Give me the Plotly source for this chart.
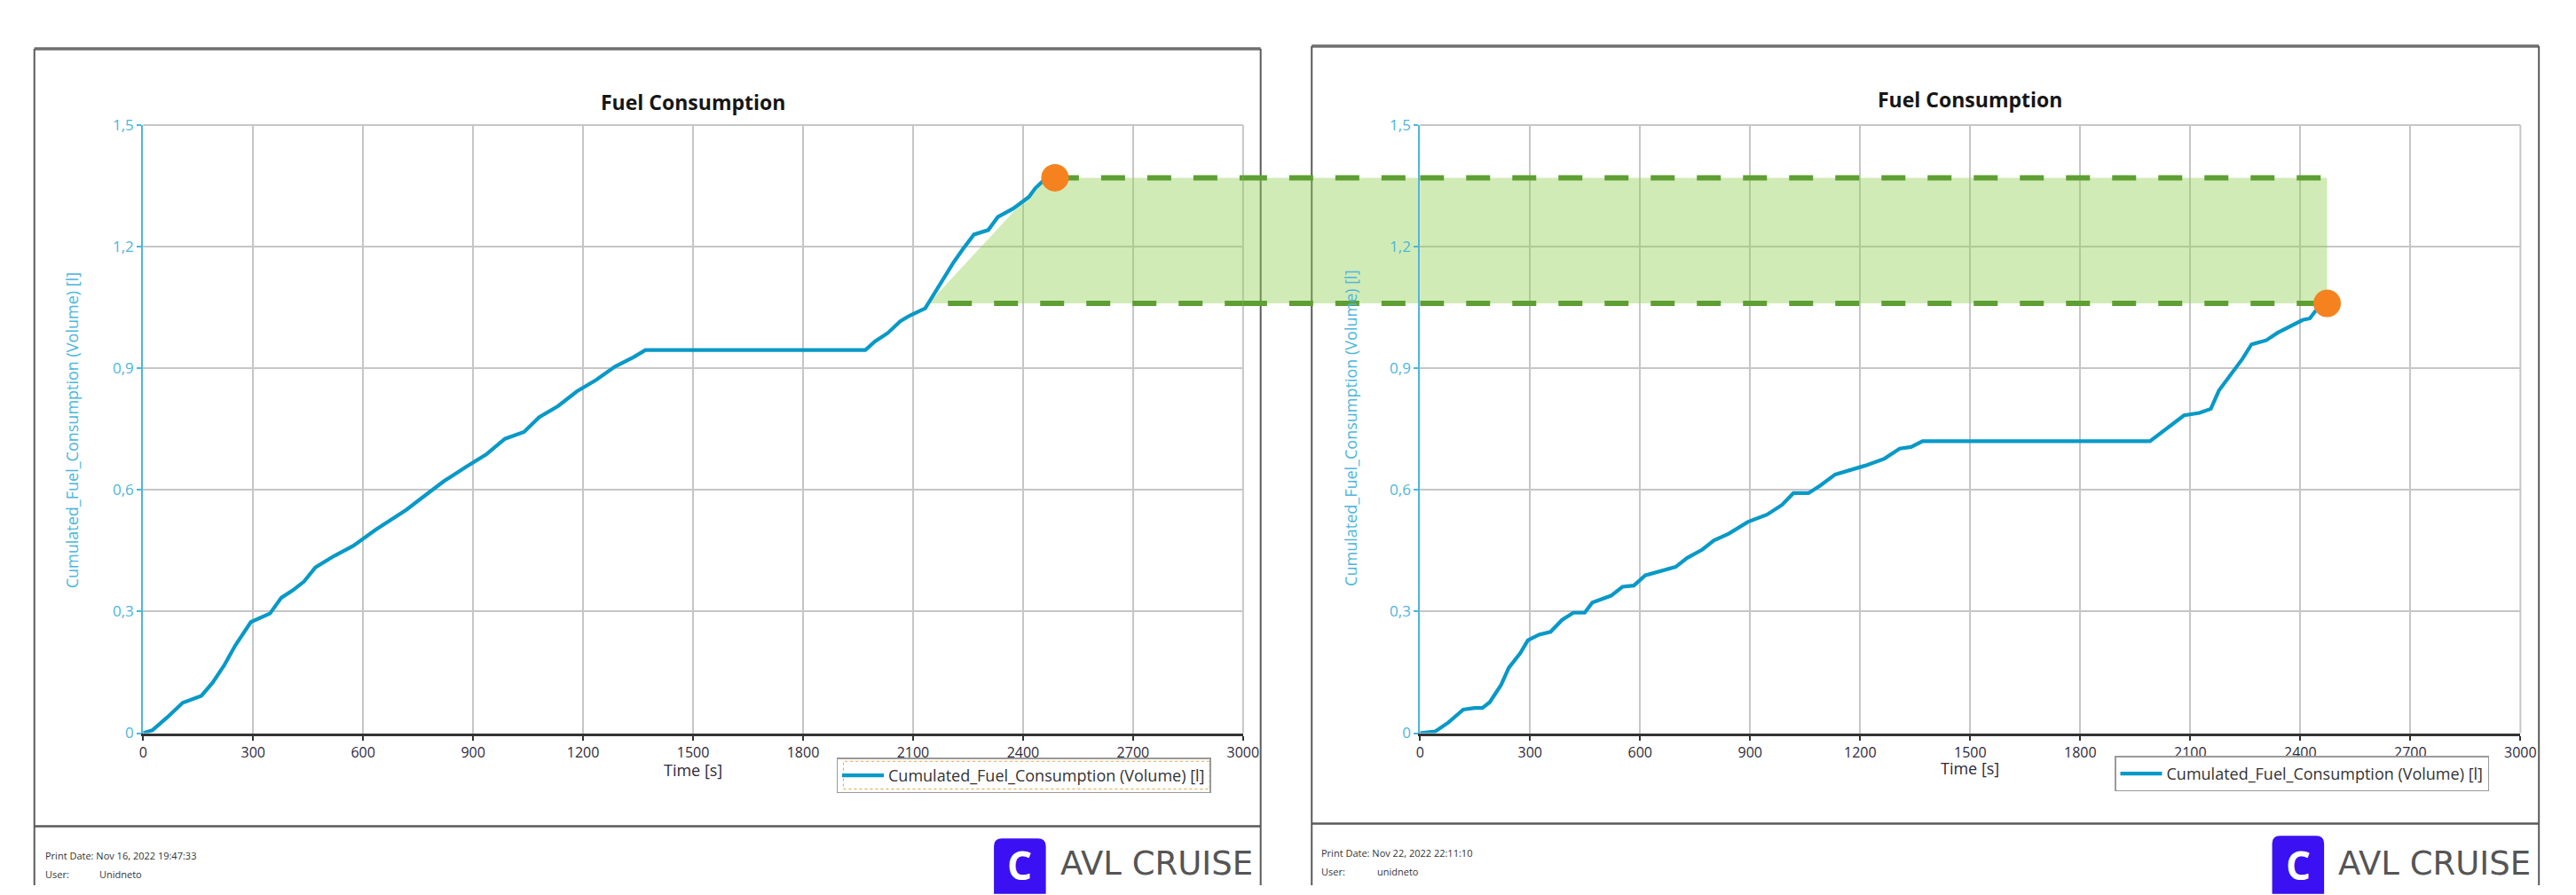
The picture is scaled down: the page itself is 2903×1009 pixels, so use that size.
import plotly.graph_objects as go

FIG_W, FIG_H = 2903, 1009

# ---------------- data ----------------
time_ticks = [0, 300, 600, 900, 1200, 1500, 1800, 2100, 2400, 2700, 3000]
time_tick_labels = ["0", "300", "600", "900", "1200", "1500", "1800", "2100", "2400", "2700", "3000"]
volume_ticks = [0, 0.3, 0.6, 0.9, 1.2, 1.5]
volume_tick_labels = ["0", "0,3", "0,6", "0,9", "1,2", "1,5"]

series_name = "Cumulated_Fuel_Consumption (Volume) [l]"
chart_title = "Fuel Consumption"
x_title = "Time [s]"

# run 1 (left report)
run1_time = [0, 25, 66, 108, 159, 190, 221, 252, 294, 346, 377, 408, 439, 470, 521, 573,
             635, 677, 718, 770, 821, 883, 935, 987, 1039, 1080, 1132, 1183, 1235, 1287,
             1339, 1370, 1970, 1996, 2031, 2065, 2091, 2133, 2159, 2185, 2211, 2236, 2266,
             2305, 2331, 2373, 2416, 2433, 2459, 2480]
run1_fuel = [0, 0.007, 0.039, 0.075, 0.092, 0.125, 0.167, 0.217, 0.274, 0.295, 0.334, 0.352,
             0.374, 0.409, 0.437, 0.462, 0.502, 0.526, 0.551, 0.587, 0.622, 0.658, 0.687,
             0.726, 0.743, 0.779, 0.807, 0.843, 0.871, 0.904, 0.928, 0.945, 0.945, 0.966,
             0.987, 1.016, 1.030, 1.048, 1.087, 1.123, 1.162, 1.194, 1.230, 1.241, 1.273,
             1.294, 1.323, 1.344, 1.366, 1.372]

# run 2 (right report)
run2_time = [0, 41, 77, 118, 149, 170, 190, 221, 242, 273, 294, 325, 356, 387, 418, 449, 470,
             521, 552, 583, 614, 656, 697, 728, 770, 801, 842, 894, 946, 987, 1018, 1059, 1090,
             1132, 1173, 1214, 1266, 1308, 1339, 1370, 1990, 2032, 2083, 2125, 2156, 2178,
             2218, 2242, 2267, 2307, 2337, 2377, 2406, 2426, 2441, 2465]
run2_fuel = [0, 0.004, 0.026, 0.058, 0.062, 0.062, 0.076, 0.119, 0.161, 0.197, 0.229, 0.243,
             0.250, 0.279, 0.297, 0.297, 0.322, 0.339, 0.361, 0.364, 0.389, 0.400, 0.410,
             0.432, 0.453, 0.475, 0.492, 0.521, 0.539, 0.563, 0.592, 0.592, 0.610, 0.638,
             0.649, 0.660, 0.677, 0.702, 0.706, 0.720, 0.720, 0.748, 0.784, 0.790, 0.800,
             0.845, 0.895, 0.923, 0.959, 0.969, 0.987, 1.005, 1.019, 1.023, 1.041, 1.058]

run1_end_time, run1_end_fuel = 2487, 1.37
run2_end_time, run2_end_fuel = 2473, 1.06
band_top = run1_end_fuel
band_bottom = run2_end_fuel
band_start_time_run1 = 2142     # where run 1 reaches the run-2 total
band_corner_time_run1 = 2460
dash_start_time_run1 = 2195

print_dates = ["Print Date: Nov 16, 2022 19:47:33", "Print Date: Nov 22, 2022 22:11:10"]
user_names = ["Unidneto", "unidneto"]

# ---------------- layout helpers ----------------
def fx(x):
    return x / FIG_W


def fy(y):
    return 1 - y / FIG_H


PLOT_Y0, PLOT_Y1 = 833.5, 132          # pixel rows of 0 and 1.5
PANELS = [
    dict(frame=(34, 1427, 44, 941), plot=(157.5, 1407), title=(782, 105), ytitle=(77, 484),
         xtitle=(782, 876), legend=(945, 862), footer_x=44, user_x=106, foot_y=(975, 996),
         icon=(1124, 1183, 955), logo_x=1197, focus=(953, 1369, 866, 898)),
    dict(frame=(1485, 2879, 41, 938), plot=(1608, 2858), title=(2233, 102), ytitle=(1529, 482),
         xtitle=(2233, 874), legend=(2397, 860), footer_x=1494, user_x=1557, foot_y=(972, 993),
         icon=(2576, 2635, 952), logo_x=2649, focus=None),
]

FONT = "Open Sans"
CURVE = "#0899C7"
AXIS_BLUE = "#4DB6DC"
GRID = "#C6C6C6"
ORANGE = "#F5821F"
BAND_FILL = "rgba(146,208,80,0.42)"
BAND_LINE = "#5E9F34"
FRAME = "#5A5A5A"

fig = go.Figure()

runs = [(run1_time, run1_fuel, run1_end_time, run1_end_fuel),
        (run2_time, run2_fuel, run2_end_time, run2_end_fuel)]

for i, (t, v, et, ev) in enumerate(runs):
    xa = "x" if i == 0 else "x2"
    ya = "y" if i == 0 else "y2"
    fig.add_trace(go.Scatter(x=t, y=v, mode="lines", name=series_name,
                             line=dict(color=CURVE, width=4.2), xaxis=xa, yaxis=ya,
                             legend="legend" if i == 0 else "legend2"))
for i, (t, v, et, ev) in enumerate(runs):
    xa = "x" if i == 0 else "x2"
    ya = "y" if i == 0 else "y2"
    fig.add_trace(go.Scatter(x=[et], y=[ev], mode="markers", showlegend=False,
                             marker=dict(color=ORANGE, size=31, line=dict(width=0)),
                             xaxis=xa, yaxis=ya, cliponaxis=False))

shapes = []
annotations = []
layout_axes = {}

for i, p in enumerate(PANELS):
    sfx = "" if i == 0 else "2"
    fl, fr, ft, fsep = p["frame"]
    # frame
    shapes += [
        dict(type="line", xref="paper", yref="paper", x0=fx(fl), x1=fx(fr), y0=fy(ft), y1=fy(ft),
             line=dict(color="#6E6E6E", width=3.5), layer="below"),
        dict(type="line", xref="paper", yref="paper", x0=fx(fl), x1=fx(fl), y0=fy(ft), y1=0,
             line=dict(color=FRAME, width=2), layer="below"),
        dict(type="line", xref="paper", yref="paper", x0=fx(fr), x1=fx(fr), y0=fy(ft), y1=0,
             line=dict(color=FRAME, width=2), layer="below"),
        dict(type="line", xref="paper", yref="paper", x0=fx(fl), x1=fx(fr), y0=fy(fsep), y1=fy(fsep),
             line=dict(color=FRAME, width=2.5), layer="below"),
    ]
    # top / right grid lines at range ends
    shapes += [
        dict(type="line", xref=f"x{sfx} domain", yref=f"y{sfx} domain", x0=0, x1=1, y0=1, y1=1,
             line=dict(color=GRID, width=2), layer="below"),
        dict(type="line", xref=f"x{sfx} domain", yref=f"y{sfx} domain", x0=1, x1=1, y0=0, y1=1,
             line=dict(color=GRID, width=2), layer="below"),
    ]
    x0p, x1p = p["plot"]
    layout_axes[f"xaxis{sfx}"] = dict(
        domain=[fx(x0p), fx(x1p)], range=[time_ticks[0], time_ticks[-1]], anchor=f"y{sfx}",
        tickmode="array", tickvals=time_ticks, ticktext=time_tick_labels,
        showgrid=True, gridcolor=GRID, gridwidth=1.5, zeroline=False,
        showline=True, linecolor="#333333", linewidth=3,
        ticks="outside", ticklen=5, tickcolor="#333333", tickwidth=1.5,
        tickfont=dict(family=FONT, size=16, color="#2E2A3A"), fixedrange=True)
    layout_axes[f"yaxis{sfx}"] = dict(
        domain=[fy(PLOT_Y0), fy(PLOT_Y1)], range=[volume_ticks[0], volume_ticks[-1]],
        anchor=f"x{sfx}", tickmode="array", tickvals=volume_ticks, ticktext=volume_tick_labels,
        showgrid=True, gridcolor=GRID, gridwidth=1.5, zeroline=False,
        showline=True, linecolor=AXIS_BLUE, linewidth=2,
        ticks="outside", ticklen=5, tickcolor=AXIS_BLUE, tickwidth=1.5,
        tickfont=dict(family=FONT, size=17, color=AXIS_BLUE), fixedrange=True)

    tx, ty = p["title"]
    annotations.append(dict(text=f"<b>{chart_title}</b>", xref="paper", yref="paper",
                            x=fx(tx), y=fy(ty), xanchor="center", yanchor="middle", showarrow=False,
                            font=dict(family=FONT, size=23, color="#161616")))
    yx, yy = p["ytitle"]
    annotations.append(dict(text=series_name, xref="paper", yref="paper", x=fx(yx), y=fy(yy),
                            xanchor="center", yanchor="middle", textangle=-90, showarrow=False,
                            font=dict(family=FONT, size=18, color=AXIS_BLUE)))
    xx, xy = p["xtitle"]
    annotations.append(dict(text=x_title, xref="paper", yref="paper", x=fx(xx), y=fy(xy),
                            xanchor="center", yanchor="middle", showarrow=False,
                            font=dict(family=FONT, size=18, color="#2E2A3A")))
    # footer
    f1, f2 = p["foot_y"]
    annotations += [
        dict(text=print_dates[i], xref="paper", yref="paper", x=fx(p["footer_x"]), y=fy(f1),
             xanchor="left", yanchor="middle", showarrow=False,
             font=dict(family=FONT, size=11, color="#333333")),
        dict(text="User:", xref="paper", yref="paper", x=fx(p["footer_x"]), y=fy(f2),
             xanchor="left", yanchor="middle", showarrow=False,
             font=dict(family=FONT, size=11, color="#333333")),
        dict(text=user_names[i], xref="paper", yref="paper", x=fx(p["user_x"]), y=fy(f2),
             xanchor="left", yanchor="middle", showarrow=False,
             font=dict(family=FONT, size=11, color="#333333")),
    ]
    # AVL logo
    ix0, ix1, itop = p["icon"]
    r = 9
    path = (f"M{fx(ix0)},{fy(FIG_H + 10)} L{fx(ix0)},{fy(itop + r)} "
            f"Q{fx(ix0)},{fy(itop)} {fx(ix0 + r)},{fy(itop)} L{fx(ix1 - r)},{fy(itop)} "
            f"Q{fx(ix1)},{fy(itop)} {fx(ix1)},{fy(itop + r)} L{fx(ix1)},{fy(FIG_H + 10)} Z")
    shapes.append(dict(type="path", xref="paper", yref="paper", path=path,
                       fillcolor="#3B10F2", line=dict(width=0), layer="below"))
    annotations.append(dict(text="<b>C</b>", xref="paper", yref="paper",
                            x=fx((ix0 + ix1) / 2), y=fy(985), xanchor="center", yanchor="middle",
                            showarrow=False, font=dict(family=FONT, size=44, color="white")))
    annotations.append(dict(text="AVL CRUISE", xref="paper", yref="paper",
                            x=fx(p["logo_x"]), y=fy(1008), xanchor="left", yanchor="bottom",
                            showarrow=False, font=dict(family="DejaVu Sans", size=37, color="#555555")))
    if p["focus"]:
        a, b, c, d = p["focus"]
        shapes.append(dict(type="rect", xref="paper", yref="paper", x0=fx(a), x1=fx(b),
                           y0=fy(d), y1=fy(c), line=dict(color="#F0A040", width=1, dash="dot"),
                           layer="above"))

# ---------------- comparison band ----------------
L_X1 = PANELS[0]["plot"][1]
R_X0 = PANELS[1]["plot"][0]
t_max = time_ticks[-1]
band_path = (f"M{band_start_time_run1},{band_bottom} L{band_corner_time_run1},{band_top} "
             f"L{t_max},{band_top} L{t_max},{band_bottom} Z")
shapes += [
    dict(type="path", xref="x", yref="y", path=band_path, fillcolor=BAND_FILL,
         line=dict(width=0), layer="between"),
    dict(type="rect", xref="paper", yref="y", x0=fx(L_X1), x1=fx(R_X0), y0=band_bottom, y1=band_top,
         fillcolor=BAND_FILL, line=dict(width=0), layer="below"),
    dict(type="rect", xref="x2", yref="y2", x0=0, x1=run2_end_time, y0=band_bottom, y1=band_top,
         fillcolor=BAND_FILL, line=dict(width=0), layer="between"),
]
dash_line = dict(color=BAND_LINE, width=6, dash="27px,25px")
for yv, x_start in [(band_top, run1_end_time), (band_bottom, dash_start_time_run1)]:
    shapes += [
        dict(type="line", xref="x", yref="y", x0=x_start, x1=t_max, y0=yv, y1=yv,
             line=dash_line, layer="between"),
        dict(type="line", xref="paper", yref="y", x0=fx(L_X1), x1=fx(R_X0), y0=yv, y1=yv,
             line=dash_line, layer="below"),
        dict(type="line", xref="x2", yref="y2", x0=0, x1=run2_end_time, y0=yv, y1=yv,
             line=dash_line, layer="between"),
    ]

legend_common = dict(xanchor="left", yanchor="top", bgcolor="rgba(0,0,0,0)",
                     bordercolor="#9A9A9A", borderwidth=1.5, itemwidth=47,
                     font=dict(family=FONT, size=18, color="#333333"))
lg1 = dict(legend_common, x=fx(PANELS[0]["legend"][0]), y=fy(PANELS[0]["legend"][1]))
lg2 = dict(legend_common, x=fx(PANELS[1]["legend"][0]), y=fy(PANELS[1]["legend"][1]))

fig.update_layout(
    width=FIG_W, height=FIG_H, margin=dict(l=0, r=0, t=0, b=0, pad=0),
    paper_bgcolor="white", plot_bgcolor="rgba(0,0,0,0)",
    font=dict(family=FONT), showlegend=True,
    legend=lg1, legend2=lg2,
    shapes=shapes, annotations=annotations,
    **layout_axes,
)

fig.write_html("out.html", config={"displayModeBar": False},
               post_script="document.body.style.margin='0px';document.body.style.overflow='hidden';")
